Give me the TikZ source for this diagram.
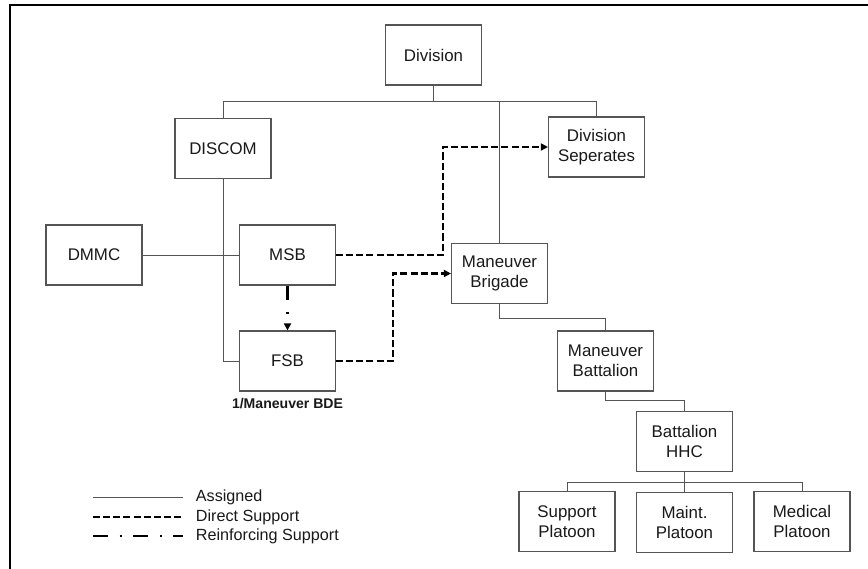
\documentclass[tikz,border=0pt]{standalone}
\usepackage{fontspec}
\setmainfont{Liberation Sans}
\usetikzlibrary{positioning,arrows.meta,calc}
\definecolor{boxgray}{RGB}{85,85,85}
\definecolor{txtblack}{RGB}{25,25,25}

\begin{document}
\begin{tikzpicture}[
        x=0.025cm, y=-0.025cm,
        unit/.style={draw=boxgray, line width=0.8pt, rectangle, minimum width=2.4cm, minimum height=1.5cm, align=center, font=\fontsize{12}{14.5}\selectfont, text=txtblack},
        assn/.style={draw=boxgray, line width=0.7pt},
        dsup/.style={draw=black, line width=1.9pt, dash pattern=on 5pt off 2.2pt},
        rsup/.style={draw=black, line width=1.9pt, dash pattern=on 10.5pt off 8.5pt on 1.5pt off 8pt},
        tip/.style={-{Triangle[length=5pt,width=5pt]}},
        keytxt/.style={anchor=west, inner xsep=9pt, inner ysep=0pt, font=\fontsize{11.5}{13}\selectfont, text=txtblack}
    ]
        \useasboundingbox (0,0) rectangle (868,569);

        % Frame
        \draw[line width=1.5pt] (10,569) -- (10,5) -- (868,5);

        % Division level
        \node[unit] (division) at (433.5,55) {Division};
        \node[unit] (discom) at (223,148.5) {DISCOM};
        \node[unit] (divsep) at (596.5,147) {Division\\Seperates};

        % Support units
        \node[unit] (dmmc) at (94,255) {DMMC};
        \node[unit] (msb) at (287.5,255) {MSB};
        \node[unit] (fsb) at (287.5,361) {FSB};
        \node[font=\bfseries\fontsize{10}{12}\selectfont, text=txtblack] (fsbtag) at (287.5,404) {1/Maneuver BDE};

        % Maneuver units
        \node[unit] (brigade) at (499.5,273.5) {Maneuver\\Brigade};
        \node[unit] (battalion) at (605.5,361) {Maneuver\\Battalion};
        \node[unit] (hhc) at (684.5,441.5) {Battalion\\HHC};
        \node[unit] (suppplt) at (567,521.5) {Support\\Platoon};
        \node[unit] (maintplt) at (684.5,522.5) {Maint.\\Platoon};
        \node[unit] (medplt) at (802,521.5) {Medical\\Platoon};

        % Assigned
        \coordinate (divbus) at (433.5,101);
        \draw[assn] (division) -- (divbus);
        \draw[assn] (divbus) -| (discom);
        \draw[assn] (divbus) -| (divsep);
        \draw[assn] (divbus) -| (brigade);
        \draw[assn] (discom) |- (fsb);
        \draw[assn] (dmmc) -- (msb);
        \draw[assn] (brigade.south) -- ++(0,14) -| (battalion);
        \draw[assn] (battalion.south) -- ++(0,9) -| (hhc);
        \coordinate (hhcbus) at (684.5,482);
        \draw[assn] (hhc) -- (hhcbus);
        \foreach \plt in {suppplt,maintplt,medplt}
            \draw[assn] (hhcbus) -| (\plt);

        % Support relations
        \draw[dsup, tip] (msb.east) -- ++(107,0) |- (divsep);
        \draw[dsup, tip] (fsb.east) -- ++(57,0) |- (brigade);
        \draw[rsup, tip] (msb) -- (fsb);

        % Key
        \coordinate (kAssn) at (93,497);
        \coordinate (kDir) at (93,517);
        \coordinate (kReinf) at (93,536);
        \node[keytxt] (lAssn) at (183,497) {Assigned};
        \node[keytxt] (lDir) at (183,517) {Direct Support};
        \node[keytxt] (lReinf) at (183,536) {Reinforcing Support};
        \draw[assn] (kAssn) -- (lAssn);
        \draw[dsup] (kDir) -- (lDir);
        \draw[rsup] (kReinf) -- (lReinf);
    \end{tikzpicture}
\end{document}
